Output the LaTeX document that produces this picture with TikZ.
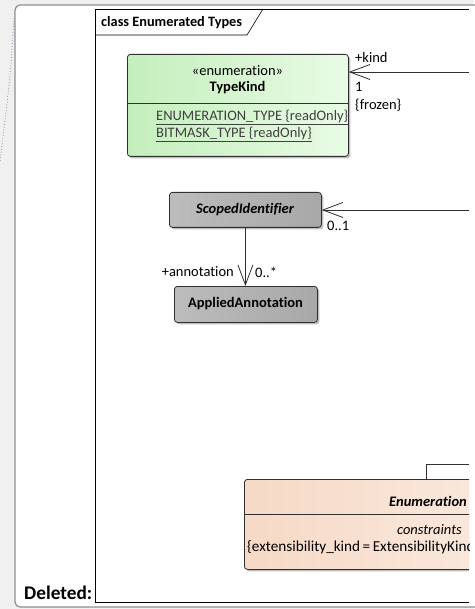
\documentclass[tikz,border=0pt]{standalone}
\usepackage{fontspec}
\setmainfont{Carlito}[Ligatures=NoCommon]
\usetikzlibrary{arrows.meta,shadows}
\definecolor{bgc}{HTML}{F0F0F0}
\definecolor{panelc}{HTML}{8A8E94}
\definecolor{linec}{HTML}{303030}
\definecolor{greenL}{HTML}{C4EFBC}
\definecolor{greenR}{HTML}{E9FBE6}
\definecolor{grayL}{HTML}{BCBCBC}
\definecolor{grayR}{HTML}{A8A8A8}
\definecolor{peachL}{HTML}{F6D9C6}
\definecolor{peachR}{HTML}{FDF6F1}
\definecolor{attrc}{HTML}{404040}
\tikzset{
  classbox/.style={draw=linec, line width=0.8pt, rounded corners=3pt, anchor=north west, inner sep=0pt,
    drop shadow={shadow xshift=2pt, shadow yshift=-2pt, opacity=0.25, fill=black}},
  assoc/.style={draw=linec, line width=0.8pt, -{Straight Barb[length=20pt,width=15pt,line width=0.8pt]}},
  lbl/.style={inner sep=0pt, font=\fontsize{14.5}{16}\selectfont, text=black},
  ctext/.style={inner sep=0pt, font=\fontsize{14.5}{16}\selectfont, text=black},
}
\begin{document}
\begin{tikzpicture}[x=1pt,y=-1pt]
\useasboundingbox (0,0) rectangle (474,609);
\fill[bgc] (0,0) rectangle (474,609);
% panel
\filldraw[fill=white, draw=panelc, line width=1.2pt, rounded corners=5pt] (490,5) -- (15,5) -- (15,607) -- (490,607);
\draw[panelc, dotted, line width=0.8pt] (14,18) .. controls (10,80) .. (0,162);
% frame
\draw[black, line width=0.8pt] (469,9) -- (95,9) -- (95,602) -- (469,602);
\draw[black, line width=0.6pt] (95,35) -- (247,35) -- (263,9);
\node[anchor=west, inner sep=0pt, font=\fontsize{14.3}{16}\selectfont\bfseries] (title) at (101,22.5) {class Enumerated Types};
\node[anchor=west, inner sep=0pt, font=\fontsize{19.3}{21}\selectfont\bfseries] (del) at (24,593) {Deleted:};

\begin{scope}
\clip (95,9) rectangle (469,602);
% TypeKind
\node[classbox, left color=greenL, right color=greenR, minimum width=221pt, minimum height=102pt] (tk) at (127,54) {};
\draw[linec, line width=0.8pt] (127,103) -- (348,103);
\node[ctext] (tkst) at (237.5,71) {«enumeration»};
\node[ctext, font=\fontsize{14.5}{16}\selectfont\bfseries] (tkname) at (237.5,88) {TypeKind};
\node[ctext, anchor=west, text=attrc] (a1) at (156,117) {\underline{ENUMERATION\_TYPE {\{}readOnly{\}}}};
\node[ctext, anchor=west, text=attrc] (a2) at (156,134) {\underline{BITMASK\_TYPE {\{}readOnly{\}}}};
% ScopedIdentifier
\node[classbox, left color=grayL, right color=grayR, minimum width=152pt, minimum height=35pt] (si) at (169,192) {};
\node[ctext, font=\fontsize{14.5}{16}\selectfont\bfseries\itshape] (siname) at (245,209.5) {ScopedIdentifier};
% AppliedAnnotation
\node[classbox, left color=grayL, right color=grayR, minimum width=143pt, minimum height=36pt] (aa) at (174,286) {};
\node[ctext, font=\fontsize{14.5}{16}\selectfont\bfseries] (aaname) at (245.5,304) {AppliedAnnotation};
% Enumeration
\node[classbox, left color=peachL, right color=peachR, minimum width=460pt, minimum height=90pt] (en) at (244,479) {};
\draw[linec, line width=0.8pt] (244,514) -- (704,514);
\node[ctext, anchor=east, font=\fontsize{14.5}{16}\selectfont\bfseries\itshape] (enname) at (467,501) {Enumeration};
\node[ctext, anchor=east, font=\fontsize{14.5}{16}\selectfont\itshape] (encons) at (462,530) {constraints};
\node[ctext, anchor=west, font=\fontsize{15.2}{17}\selectfont] (enexp) at (247,547) {{\{}extensibility\_kind\,=\,ExtensibilityKind};
% connectors
\coordinate (kindsrc) at (469,72);
\coordinate (sisrc) at (469,210);
\draw[assoc] (kindsrc) -- (tk.east |- kindsrc);
\draw[assoc] (sisrc) -- (si.east |- sisrc);
\draw[assoc] (si.south) -- (aa.north -| si.south);
\coordinate (gencorner) at (426,464);
\coordinate (genend) at (469,464);
\draw[linec, line width=0.8pt] (en.north -| gencorner) -- (gencorner) -- (genend);
\end{scope}
% labels
\node[lbl, anchor=west] (kindr) at (355,58) {+kind};
\node[lbl, anchor=west] (kindm) at (355,87) {1};
\node[lbl, anchor=west] (kindf) at (355,105) {{\{}frozen{\}}};
\node[lbl, anchor=west] (sim) at (327,226) {0..1};
\node[lbl, anchor=east] (annr) at (234,272) {+annotation};
\node[lbl, anchor=west] (annm) at (255,272) {0..*};
\end{tikzpicture}
\end{document}
